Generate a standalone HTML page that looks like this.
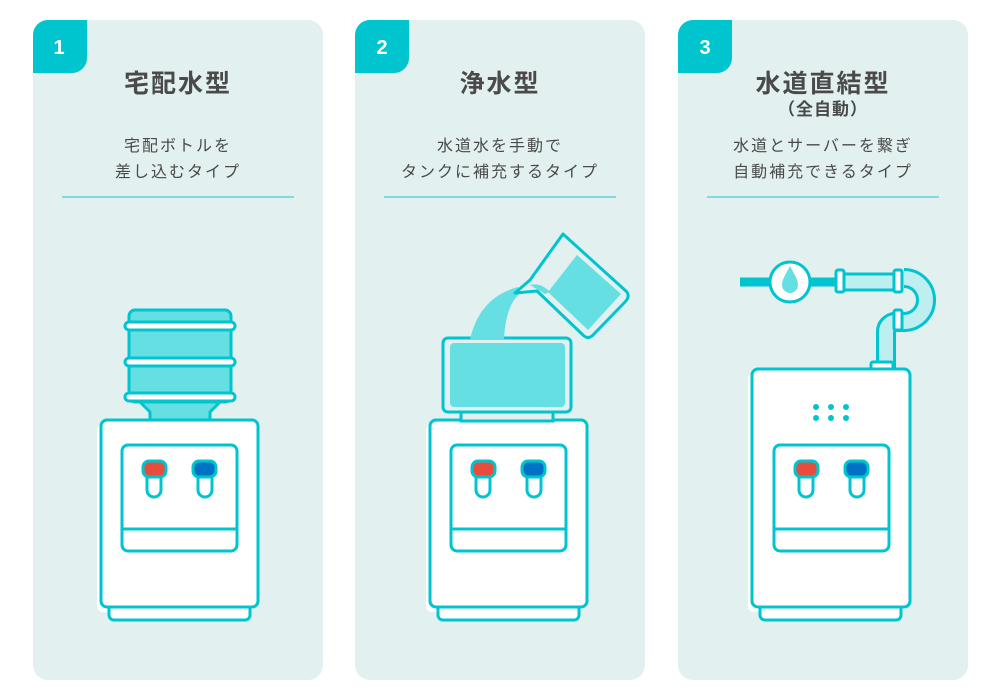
<!DOCTYPE html>
<html><head><meta charset="utf-8"><style>
body{margin:0;background:#fff;}
svg{display:block}
text{font-family:"Liberation Sans","Noto Sans CJK JP",sans-serif;fill:#4a4a4a;text-anchor:middle}
.t{font-size:25px;font-weight:bold;letter-spacing:2px}
.s{font-size:16px;letter-spacing:2px}
.n{font-size:20px;font-weight:bold;fill:#fff}
</style></head><body>
<svg width="1000" height="700" viewBox="0 0 1000 700">
<defs>
<g id="taps">
 <rect x="0" y="0" width="115" height="106" rx="6" fill="#fff" stroke="#00c5cf" stroke-width="3"/>
 <line x1="0" y1="84" x2="115" y2="84" stroke="#00c5cf" stroke-width="3"/>
 <rect x="25" y="25" width="14" height="27" rx="7" fill="#fff" stroke="#00c5cf" stroke-width="3"/>
 <rect x="21" y="16" width="23" height="16" rx="6" fill="#e84c3d" stroke="#00c5cf" stroke-width="3"/>
 <rect x="76" y="25" width="14" height="27" rx="7" fill="#fff" stroke="#00c5cf" stroke-width="3"/>
 <rect x="71" y="16" width="23" height="16" rx="6" fill="#0072c6" stroke="#00c5cf" stroke-width="3"/>
</g>
</defs>
<g fill="#e2f0ef">
<rect x="33" y="20" width="290" height="660" rx="15"/>
<rect x="355" y="20" width="290" height="660" rx="15"/>
<rect x="678" y="20" width="290" height="660" rx="15"/>
</g>
<g fill="#00c5cf">
<path d="M33 35a15 15 0 0 1 15-15h39v38a15 15 0 0 1-15 15H33z"/>
<path d="M355 35a15 15 0 0 1 15-15h39v38a15 15 0 0 1-15 15H355z"/>
<path d="M678 35a15 15 0 0 1 15-15h39v38a15 15 0 0 1-15 15H678z"/>
</g>
<text class="n" x="59" y="54">1</text>
<text class="n" x="382" y="54">2</text>
<text class="n" x="705" y="54">3</text>
<text class="t" x="178" y="92">宅配水型</text>
<text class="t" x="500" y="92">浄水型</text>
<text class="t" x="823" y="92">水道直結型</text>
<text x="823" y="115" style="font-size:17px;font-weight:bold;letter-spacing:1px">（全自動）</text>
<text class="s" x="178" y="151">宅配ボトルを</text>
<text class="s" x="178" y="177">差し込むタイプ</text>
<text class="s" x="500" y="151">水道水を手動で</text>
<text class="s" x="500" y="177">タンクに補充するタイプ</text>
<text class="s" x="823" y="151">水道とサーバーを繋ぎ</text>
<text class="s" x="823" y="177">自動補充できるタイプ</text>
<g stroke="#5fd3da" stroke-width="1.5">
<line x1="62" y1="197" x2="294" y2="197"/>
<line x1="384" y1="197" x2="616" y2="197"/>
<line x1="707" y1="197" x2="939" y2="197"/>
</g>

<!-- cooler 1 -->
<g stroke="#00c5cf" stroke-width="3">
<rect x="97" y="424" width="157" height="188" rx="6" fill="#fff" stroke="none"/>
<rect x="109" y="600" width="141" height="20" rx="5" fill="#fff"/>
<rect x="101" y="420" width="157" height="187" rx="6" fill="#fff"/>
<path d="M138 400 L150 412 L150 420 L210 420 L210 412 L222 400Z" fill="#66dfe3"/>
<rect x="129" y="310" width="102" height="92" rx="6" fill="#66dfe3"/>
<rect x="125" y="322" width="110" height="8" rx="4" fill="#fff"/>
<rect x="125" y="358" width="110" height="8" rx="4" fill="#fff"/>
<rect x="125" y="393" width="110" height="8" rx="4" fill="#fff"/>
</g>
<use href="#taps" x="122" y="445"/>

<!-- cooler 2 -->
<g stroke="#00c5cf" stroke-width="3">
<rect x="426" y="424" width="157" height="188" rx="6" fill="#fff" stroke="none"/>
<rect x="438" y="600" width="141" height="20" rx="5" fill="#fff"/>
<rect x="430" y="420" width="157" height="187" rx="6" fill="#fff"/>
<rect x="461" y="412" width="92" height="9" fill="#e2f0ef"/>
<rect x="443" y="338" width="128" height="74" rx="5" fill="#e2f0ef"/>
</g>
<rect x="450" y="343" width="115" height="64" rx="4" fill="#66dfe3"/>
<path d="M470 340 C476 312 492 294 518 287 L522 292 C510 300 505 318 504 340Z" fill="#66dfe3"/>
<path d="M563 234 L627 292 Q630 297 625 302 L593 335 Q588 340 583 335 L537 291 L515 293 L530 280 Z" fill="#e2f0ef" stroke="#00c5cf" stroke-width="3" stroke-linejoin="round"/>
<path d="M577 255 L621 294 L588 330 L548 292 Z" fill="#66dfe3"/>
<path d="M530 285 C538 283 544 286 550 292 L545 294 Z" fill="#66dfe3"/>
<use href="#taps" x="451" y="445"/>

<!-- cooler 3 -->
<g stroke="#00c5cf" stroke-width="3">
<path d="M740 282 H835" stroke-width="9"/>
<circle cx="790" cy="282" r="20" fill="#fff"/>
<path d="M904 278 a22 22 0 0 1 0 44 h-6 a10 10 0 0 0 -12 10 V370" fill="none" stroke="#00c5cf" stroke-width="20" stroke-linecap="butt"/>
<path d="M904 278 a22 22 0 0 1 0 44 h-6 a10 10 0 0 0 -12 10 V370" fill="none" stroke="#bdeef0" stroke-width="14"/>
<rect x="840" y="274" width="60" height="16" fill="#bdeef0"/>
<rect x="836" y="270" width="8" height="22" rx="2" fill="#fff"/>
<rect x="894" y="270" width="8" height="22" rx="2" fill="#fff"/>
<rect x="894" y="310" width="8" height="20" rx="2" fill="#fff"/>
<rect x="871" y="362" width="22" height="9" rx="2" fill="#fff"/>
<rect x="748" y="373" width="158" height="239" rx="6" fill="#fff" stroke="none"/>
<rect x="760" y="600" width="141" height="20" rx="5" fill="#fff"/>
<rect x="752" y="369" width="158" height="238" rx="6" fill="#fff"/>
</g>
<path d="M790 266 C786 274 782 279 782 285 a8 8 0 0 0 16 0 C798 279 794 274 790 266Z" fill="#66dfe3"/>
<g fill="#00c5cf">
<circle cx="816" cy="407" r="3"/><circle cx="831" cy="407" r="3"/><circle cx="846" cy="407" r="3"/>
<circle cx="816" cy="418" r="3"/><circle cx="831" cy="418" r="3"/><circle cx="846" cy="418" r="3"/>
</g>
<use href="#taps" x="774" y="445"/>
</svg>
</body></html>
